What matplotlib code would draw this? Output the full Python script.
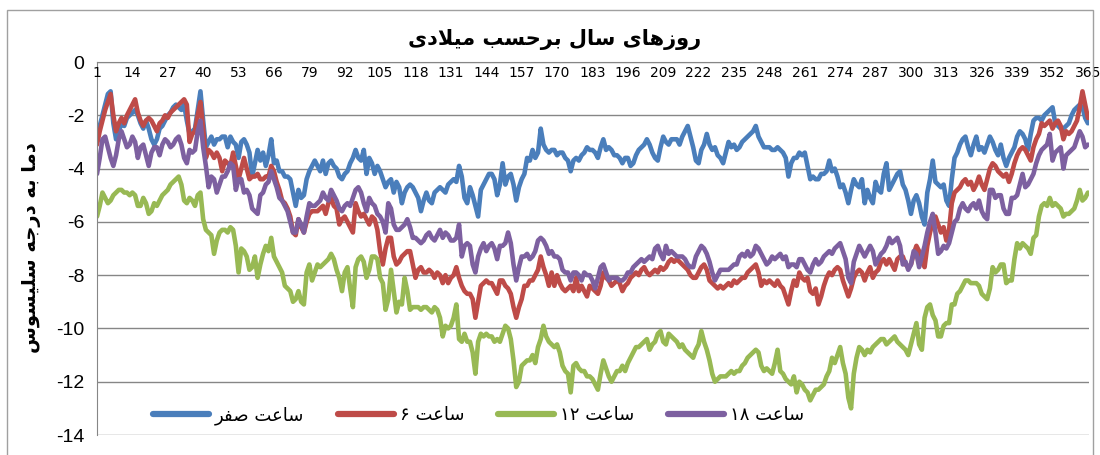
import re

import matplotlib
matplotlib.use("Agg")
import matplotlib.pyplot as plt
import numpy as np
from matplotlib.patches import Rectangle

# ---- data (daily temperature, deg C) ---------------------------------------
TITLE = "روزهای سال برحسب میلادی"
YLABEL = "دما به درجه سلیسوس"
SERIES_NAMES = ["ساعت صفر", "ساعت ۶", "ساعت ۱۲", "ساعت ۱۸"]
COLORS = ["#4A7EBB", "#BE4B48", "#98B954", "#7D60A0"]
YTICKS = [0, -2, -4, -6, -8, -10, -12, -14]
XTICKS = list(range(1, 366, 13))

HOUR_00 = [
    -2.8, -2.4, -2.0, -1.6, -1.2, -1.1, -2.3, -2.9, -2.6, -2.3,
    -2.4, -2.1, -2.0, -1.9, -1.8, -2.0, -2.3, -2.5, -2.2, -2.5,
    -2.9, -3.1, -2.9, -2.5, -2.4, -2.2, -2.0, -1.9, -1.7, -1.6,
    -1.7, -1.8, -1.6, -2.2, -2.7, -2.6, -2.5, -1.8, -1.1, -2.2,
    -3.2, -3.0, -2.8, -3.1, -2.9, -2.9, -2.8, -2.8, -3.2, -2.8,
    -3.0, -3.1, -3.6, -3.0, -2.9, -3.1, -3.4, -4.3, -3.8, -3.3,
    -3.7, -3.4, -3.9, -3.5, -2.9, -3.8, -3.7, -4.1, -4.1, -4.3,
    -4.3, -4.4, -4.9, -5.4, -4.8, -5.1, -5.0, -4.4, -4.1, -3.9,
    -3.7, -3.9, -4.1, -3.7, -4.2, -3.8, -3.7, -3.9, -4.0, -4.3,
    -4.4, -4.2, -4.1, -3.8, -3.6, -3.3, -3.6, -3.7, -3.3, -4.2,
    -3.6, -3.8, -4.2, -3.9, -4.1, -4.4, -4.7, -4.5, -4.4, -4.9,
    -4.5, -4.7, -5.3, -4.9, -4.7, -4.6, -4.7, -4.9, -5.1, -5.6,
    -5.2, -4.9, -5.2, -5.3, -4.9, -4.8, -4.7, -4.8, -4.9, -4.6,
    -4.5, -4.4, -4.5, -3.9, -4.3, -5.1, -5.3, -4.7, -5.0, -5.4,
    -5.8, -4.8, -4.6, -4.4, -4.2, -4.2, -4.4, -5.0, -4.6, -3.8,
    -4.6, -4.3, -4.2, -4.6, -5.2, -4.7, -4.4, -4.2, -3.6, -3.7,
    -3.3, -3.6, -3.4, -2.5, -3.1, -3.3, -3.4, -3.3, -3.3, -3.5,
    -3.4, -3.4, -3.6, -3.7, -4.1, -3.7, -3.6, -3.7, -3.5, -3.4,
    -3.2, -3.3, -3.3, -3.4, -3.6, -3.2, -2.9, -3.3, -3.2, -3.3,
    -3.5, -3.5, -3.6, -3.8, -3.6, -3.6, -3.9, -3.8, -3.5, -3.3,
    -3.2, -3.1, -2.9, -3.1, -3.4, -3.6, -3.7, -3.2, -2.8, -3.0,
    -3.1, -2.9, -2.9, -2.9, -3.1, -2.8, -2.6, -2.4, -2.8, -3.2,
    -3.7, -3.8, -3.3, -3.1, -2.7, -3.1, -3.3, -3.2, -3.5, -3.6,
    -3.8, -3.4, -3.0, -3.2, -3.1, -3.3, -3.2, -3.0, -2.9, -2.8,
    -2.7, -2.6, -2.4, -2.8, -3.0, -3.2, -3.2, -3.2, -3.3, -3.3,
    -3.2, -3.3, -3.4, -3.6, -4.3, -3.8, -3.6, -3.6, -3.4, -3.5,
    -3.4, -3.9, -4.4, -4.3, -4.4, -4.4, -4.2, -4.2, -4.1, -3.7,
    -4.1, -4.0, -4.3, -4.7, -4.6, -4.9, -5.3, -4.8, -4.4, -4.6,
    -4.7, -4.4, -5.3, -4.8, -5.1, -5.3, -4.5, -4.8, -4.9, -4.2,
    -3.8, -4.8, -4.6, -4.4, -4.2, -4.1, -4.6, -4.8, -5.2, -5.7,
    -5.2, -5.0, -5.3, -5.8, -6.1, -4.9, -4.4, -3.7, -4.5, -4.6,
    -4.7, -4.6, -5.2, -5.4, -4.4, -3.6, -3.4, -3.1, -2.9, -2.8,
    -3.2, -3.5, -3.1, -2.8, -3.3, -3.2, -3.4, -3.1, -2.8, -3.0,
    -3.3, -3.5, -3.1, -3.6, -3.9, -3.6, -3.4, -3.2, -2.8, -2.6,
    -2.7, -2.9, -3.3, -2.7, -2.2, -2.1, -2.1, -2.2, -2.0, -1.9,
    -1.8, -1.7, -2.3, -2.4, -2.5, -2.5, -2.4, -2.3, -2.0, -1.8,
    -1.7, -1.6, -1.7, -2.1, -2.3,
]

HOUR_06 = [
    -3.1, -2.6, -2.2, -1.8, -1.5, -1.2, -2.0, -2.6, -2.3, -2.1,
    -2.3, -2.0, -1.8, -1.6, -1.4, -1.9, -2.2, -2.4, -2.2, -2.1,
    -2.2, -2.4, -2.6, -2.3, -2.2, -2.0, -2.1, -1.9, -1.8, -1.7,
    -1.6, -1.5, -1.4, -1.6, -3.0, -2.7, -2.6, -2.0, -1.5, -2.5,
    -3.6, -3.3, -3.4, -3.6, -3.4, -3.6, -4.1, -3.7, -3.8, -3.9,
    -3.4, -3.9, -4.4, -4.0, -3.6, -4.0, -4.4, -4.3, -4.3, -4.2,
    -4.4, -4.4, -4.3, -4.3, -3.9, -4.1, -4.5, -4.8, -5.2, -5.3,
    -5.5, -5.8, -6.4, -6.5, -5.9, -6.2, -6.4, -6.0, -5.7, -5.6,
    -5.6, -5.6, -5.5, -5.4, -5.7, -5.3, -5.1, -5.4, -5.5, -6.1,
    -5.9, -5.8, -6.0, -6.2, -6.4, -5.3, -5.6, -5.8, -5.7, -5.9,
    -6.1, -5.8, -5.9, -6.3, -7.1, -7.6, -7.0, -6.6, -6.6, -7.3,
    -7.6, -7.5, -7.3, -7.2, -7.1, -7.1, -7.6, -8.1, -7.8, -7.7,
    -7.9, -7.9, -7.8, -7.9, -8.1, -7.9, -8.0, -8.3, -8.0, -8.3,
    -8.1, -8.0, -7.7, -8.1, -8.4, -8.6, -8.7, -8.7, -8.9, -9.6,
    -9.0, -8.4, -8.3, -8.2, -8.3, -8.3, -8.5, -8.7, -8.2, -8.2,
    -8.4, -8.5, -8.7, -9.2, -9.6, -9.2, -8.9, -8.4, -8.4, -8.2,
    -8.2, -8.0, -7.8, -7.3, -7.7, -8.0, -8.4, -7.9, -8.4, -8.0,
    -8.3, -8.5, -8.6, -8.5, -8.4, -8.6, -8.1, -8.6, -8.4, -8.6,
    -8.8, -8.4, -8.5, -8.6, -8.7, -8.4, -7.9, -8.1, -8.2, -8.4,
    -8.3, -8.2, -8.3, -8.6, -8.4, -8.3, -8.1, -8.0, -7.9, -8.0,
    -7.8, -7.7, -7.9, -8.0, -7.9, -7.8, -7.9, -7.7, -7.8, -7.7,
    -7.5, -7.4, -7.5, -7.4, -7.5, -7.6, -7.7, -7.8, -8.0, -8.1,
    -8.1, -7.9, -7.7, -7.6, -7.8, -8.2, -8.3, -8.4, -8.5, -8.4,
    -8.5, -8.4, -8.3, -8.4, -8.2, -8.3, -8.2, -8.1, -8.1, -7.9,
    -7.8, -7.7, -7.6, -7.9, -8.4, -8.2, -8.3, -8.2, -8.3, -8.4,
    -8.2, -8.4, -8.5, -8.8, -9.1, -8.6, -8.2, -8.4, -7.9, -8.1,
    -8.2, -8.1, -8.6, -8.7, -8.5, -9.1, -8.8, -8.4, -8.1, -7.9,
    -8.0, -7.8, -7.7, -7.8, -8.2, -8.5, -8.8, -8.5, -8.1, -7.9,
    -7.8, -7.9, -8.2, -7.9, -7.7, -8.1, -7.9, -7.8, -7.5, -7.4,
    -7.6, -7.4, -7.6, -7.8, -7.4, -7.3, -7.3, -7.6, -7.7, -7.6,
    -7.2, -6.9, -7.1, -7.5, -7.7, -6.9, -6.4, -6.0, -5.8, -6.1,
    -6.4, -6.2, -6.7, -6.3, -5.3, -4.9, -4.8, -4.7, -4.5, -4.4,
    -4.6, -4.5, -4.8, -4.6, -4.3, -4.6, -4.8, -4.4, -4.0, -3.8,
    -3.9, -4.1, -4.2, -4.3, -4.2, -4.5, -4.2, -3.8, -3.5, -3.3,
    -3.2, -3.3, -3.5, -3.7, -3.2, -2.9, -2.7, -2.3, -2.4, -2.3,
    -2.2, -2.5, -2.3, -2.2, -2.4, -2.9, -2.6, -2.7, -2.6, -2.4,
    -2.2, -1.7, -1.1, -1.6, -2.1,
]

HOUR_12 = [
    -5.8, -5.4, -4.9, -5.1, -5.3, -5.2, -5.0, -4.9, -4.8, -4.8,
    -4.9, -4.9, -5.0, -4.9, -5.0, -5.4, -5.4, -5.1, -5.3, -5.7,
    -5.6, -5.3, -5.4, -5.2, -5.0, -4.9, -4.8, -4.6, -4.5, -4.4,
    -4.3, -4.6, -5.2, -5.3, -5.1, -5.2, -5.4, -5.0, -4.9, -5.9,
    -6.3, -6.4, -6.5, -7.2, -6.7, -6.4, -6.3, -6.3, -6.4, -6.2,
    -6.3, -6.9, -7.9, -7.0, -7.1, -7.3, -7.8, -7.7, -7.3, -8.1,
    -7.6, -7.2, -6.9, -7.1, -6.6, -7.3, -7.5, -7.7, -7.9, -8.4,
    -8.5, -8.6, -9.0, -8.9, -8.6, -9.0, -9.1, -7.9, -7.6, -8.2,
    -7.9, -7.6, -7.7, -7.6, -7.5, -7.4, -7.2, -7.4, -7.8, -8.1,
    -8.6, -7.9, -7.7, -8.5, -9.2, -7.7, -7.4, -7.3, -7.5, -8.1,
    -7.8, -7.3, -7.3, -7.4, -8.1, -8.3, -9.3, -8.9, -7.8, -8.6,
    -9.4, -9.0, -9.1, -8.1, -8.6, -9.3, -9.2, -9.2, -9.2, -9.3,
    -9.2, -9.2, -9.3, -9.4, -9.2, -9.3, -9.6, -10.3, -9.9, -10.0,
    -9.9, -9.6, -9.1, -10.4, -10.5, -10.2, -10.5, -10.5, -10.9, -11.7,
    -10.5, -10.2, -10.3, -10.2, -10.3, -10.3, -10.5, -10.4, -10.5, -10.2,
    -9.9, -10.0, -10.4, -11.2, -12.2, -12.0, -11.4, -11.3, -11.2, -11.2,
    -11.0, -11.3, -10.7, -10.4, -9.9, -10.3, -10.5, -10.6, -10.7, -10.6,
    -10.9, -11.4, -11.6, -11.7, -12.4, -11.4, -11.3, -11.5, -11.6, -11.6,
    -11.8, -11.8, -11.9, -12.1, -12.3, -11.7, -11.2, -11.5, -11.8, -12.0,
    -11.8, -11.6, -11.6, -11.4, -11.6, -11.3, -11.1, -10.9, -10.7, -10.7,
    -10.6, -10.5, -10.4, -10.8, -10.6, -10.5, -10.2, -10.1, -10.5, -10.6,
    -10.2, -10.3, -10.4, -10.5, -10.7, -10.6, -10.8, -10.9, -11.0, -11.1,
    -10.8, -10.6, -10.1, -10.5, -10.8, -11.2, -11.7, -12.0, -11.9, -11.8,
    -11.8, -11.8, -11.7, -11.6, -11.7, -11.6, -11.6, -11.4, -11.3, -11.1,
    -11.0, -10.9, -10.8, -10.9, -11.4, -11.6, -11.5, -11.6, -11.7, -11.3,
    -10.8, -11.6, -11.7, -11.9, -12.0, -12.1, -11.8, -12.4, -12.0, -12.1,
    -12.3, -12.4, -12.7, -12.5, -12.3, -12.3, -12.2, -12.1, -11.8, -11.6,
    -11.1, -11.3, -11.0, -10.7, -11.3, -11.7, -12.6, -13.0, -11.7, -11.1,
    -10.7, -10.8, -11.0, -10.8, -10.9, -10.7, -10.6, -10.5, -10.4, -10.4,
    -10.6, -10.5, -10.4, -10.3, -10.5, -10.6, -10.7, -10.8, -11.0, -10.6,
    -10.2, -9.8, -10.6, -10.8, -9.6, -9.2, -9.1, -9.5, -9.7, -10.3,
    -10.3, -9.9, -9.8, -9.8, -9.1, -9.1, -8.7, -8.6, -8.4, -8.2,
    -8.2, -8.3, -8.3, -8.3, -8.4, -8.7, -8.8, -8.9, -8.5, -7.7,
    -7.9, -7.8, -7.6, -7.6, -8.3, -8.2, -8.2, -7.4, -6.8, -7.0,
    -6.8, -6.9, -7.0, -7.2, -6.6, -6.5, -5.8, -5.4, -5.3, -5.4,
    -5.1, -5.4, -5.3, -5.4, -5.5, -5.8, -5.7, -5.7, -5.6, -5.5,
    -5.2, -4.8, -5.2, -5.1, -4.9,
]

HOUR_18 = [
    -4.2, -3.6, -2.9, -2.8, -3.2, -3.6, -3.9, -3.5, -2.9, -2.6,
    -2.9, -3.2, -3.1, -2.8, -3.0, -3.6, -3.2, -3.1, -3.5, -3.9,
    -3.4, -3.2, -3.2, -3.5, -3.1, -2.9, -3.0, -3.2, -3.1, -2.9,
    -2.8, -3.1, -3.6, -3.8, -3.3, -3.4, -3.3, -2.6, -2.2, -3.2,
    -3.9, -4.7, -4.3, -4.4, -4.9, -4.6, -4.3, -4.3, -4.1, -3.8,
    -3.9, -4.8, -4.4, -4.4, -4.9, -4.8, -5.0, -5.5, -5.6, -5.7,
    -5.0, -4.9, -4.6, -4.5, -4.1, -4.4, -4.7, -5.1, -5.2, -5.4,
    -5.6, -6.0, -6.4, -6.4, -5.9, -6.1, -6.4, -5.8, -5.3, -5.4,
    -5.4, -5.3, -5.2, -4.9, -5.1, -5.2, -4.8, -5.0, -5.2, -5.5,
    -5.6, -5.4, -5.3, -5.4, -5.1, -4.8, -4.7, -4.9, -5.3, -5.6,
    -5.1, -5.3, -5.4, -5.7, -5.8, -6.0, -6.4, -5.3, -5.5, -6.1,
    -6.3, -6.3, -6.2, -6.1, -5.9, -6.2, -6.6, -6.6, -6.7, -6.8,
    -6.7, -6.5, -6.4, -6.6, -6.7, -6.5, -6.3, -6.6, -6.4, -6.5,
    -6.7, -6.7, -6.6, -6.1, -7.3, -6.9, -6.8, -6.9, -7.6, -7.9,
    -7.3, -7.0, -6.8, -7.1, -6.9, -6.8, -7.0, -7.4, -6.9, -6.9,
    -6.8, -6.4, -6.8, -7.6, -8.2, -7.7, -7.3, -7.3, -7.2, -7.4,
    -7.3, -7.1, -6.7, -6.6, -6.7, -6.9, -7.2, -7.1, -7.3, -7.3,
    -7.4, -7.8, -7.9, -7.9, -8.2, -7.9, -7.9, -8.0, -8.2, -7.9,
    -8.0, -8.0, -8.2, -8.5, -8.1, -7.7, -7.6, -7.9, -8.2, -8.1,
    -8.1, -8.1, -8.2, -8.2, -8.1, -7.9, -7.9, -7.7, -7.6, -7.5,
    -7.4, -7.5, -7.4, -7.3, -7.4, -7.0, -6.9, -7.2, -7.4, -6.9,
    -7.2, -7.1, -7.2, -7.3, -7.3, -7.3, -7.4, -7.6, -7.7, -7.7,
    -7.3, -7.1, -6.9, -7.0, -7.2, -7.5, -7.9, -8.2, -8.0, -7.8,
    -7.8, -7.8, -7.8, -7.7, -7.6, -7.6, -7.3, -7.2, -7.3, -7.1,
    -7.3, -7.2, -6.9, -7.0, -7.2, -7.4, -7.6, -7.5, -7.3, -7.4,
    -7.3, -7.2, -7.4, -7.3, -7.7, -7.6, -7.6, -7.7, -7.4, -7.4,
    -7.6, -7.8, -7.9, -7.6, -7.4, -7.6, -7.5, -7.3, -7.2, -7.1,
    -7.2, -7.0, -6.9, -6.8, -7.1, -7.4, -8.1, -8.3, -7.5, -7.2,
    -6.9, -7.1, -7.3, -7.1, -6.9, -7.1, -7.6, -7.4, -7.2, -7.1,
    -6.9, -6.6, -6.8, -6.7, -6.6, -6.9, -7.6, -7.5, -7.8, -7.6,
    -7.1, -7.2, -7.7, -7.3, -6.9, -6.4, -6.0, -5.7, -6.4, -7.2,
    -7.1, -6.9, -7.0, -6.8, -6.4, -6.0, -5.9, -5.5, -5.3, -5.5,
    -5.6, -5.4, -5.3, -5.5, -5.2, -5.6, -5.8, -5.9, -4.8, -4.8,
    -5.1, -5.0, -5.0, -5.5, -5.7, -5.7, -5.1, -5.1, -5.0, -4.6,
    -4.2, -4.7, -4.6, -4.4, -4.2, -3.8, -3.5, -3.3, -3.2, -3.1,
    -2.7, -3.7, -3.4, -3.3, -3.2, -4.0, -3.5, -3.4, -3.3, -3.2,
    -2.9, -2.6, -2.8, -3.2, -3.1,
]

# ---- minimal Persian shaping (matplotlib has no complex text layout) -------
# presentation-form base code points: +0 isolated, +1 final, +2 initial, +3 medial
DUAL = {"ب": 0xFE8F, "ت": 0xFE95, "ج": 0xFE9D, "ح": 0xFEA1, "س": 0xFEB1,
        "ص": 0xFEB9, "ع": 0xFEC9, "ف": 0xFED1, "ل": 0xFEDD, "م": 0xFEE1,
        "ه": 0xFEE9, "ی": 0xFBFC}
RIGHT = {"ا": 0xFE8D, "د": 0xFEA9, "ر": 0xFEAD, "ز": 0xFEAF, "و": 0xFEED}


def fa(text):
    out, i, n = [], 0, len(text)
    while i < n:
        ch = text[i]
        prev = i > 0 and text[i - 1] in DUAL
        if ch == "ل" and i + 1 < n and text[i + 1] == "ا":
            out.append(chr(0xFEFC if prev else 0xFEFB))  # lam-alef
            i += 2
            continue
        if ch in DUAL:
            nxt = i + 1 < n and (text[i + 1] in DUAL or text[i + 1] in RIGHT)
            if prev and nxt:
                off = 3
            elif nxt:
                off = 2
            elif prev:
                off = 1
            else:
                off = 0
            out.append(chr(DUAL[ch] + off))
        elif ch in RIGHT:
            out.append(chr(RIGHT[ch] + (1 if prev else 0)))
        else:
            out.append(ch)
        i += 1
    visual = "".join(reversed(out))
    # digit runs keep their left-to-right order
    return re.sub("[۰-۹0-9]+", lambda m: m.group(0)[::-1], visual)


plt.rcParams["axes.unicode_minus"] = False
NUM_FONT = "Liberation Sans"
FA_FONT = ["DejaVu Sans"]
GRID = "#868686"

fig = plt.figure(figsize=(11, 4.55), dpi=100)
ax = fig.add_axes([97 / 1100, 1 - 435 / 455, 992 / 1100, 373 / 455])

for yv in YTICKS:
    ax.axhline(yv, color=GRID, lw=1.0, zorder=0.5)

for vals, name, col in zip([HOUR_00, HOUR_06, HOUR_12, HOUR_18], SERIES_NAMES, COLORS):
    days = np.arange(1, len(vals) + 1)
    ax.plot(days, vals, color=col, lw=3.3, label=fa(name),
            solid_joinstyle="round", solid_capstyle="round", zorder=2)

ax.set_xlim(1, 365.4)
ax.set_ylim(-14, 0)
ax.set_yticks(YTICKS)
ax.set_yticklabels([str(v) for v in YTICKS], fontsize=14, family=NUM_FONT)
ax.set_xticks(XTICKS)
ax.set_xticklabels([str(v) for v in XTICKS], rotation=90, fontsize=13.5,
                   family=NUM_FONT)
ax.tick_params(axis="both", length=0)
ax.tick_params(axis="y", pad=9)
ax.tick_params(axis="x", pad=3)

# category axis crosses at 0 (top of the plot), labels hang below it
ax.spines["bottom"].set_position(("data", 0))
ax.spines["bottom"].set_color(GRID)
ax.spines["left"].set_color(GRID)
ax.spines["top"].set_visible(False)
ax.spines["right"].set_visible(False)
ax.set_axisbelow(False)
ax.set_facecolor("none")

leg = ax.legend(loc="center left", bbox_to_anchor=(0.0565, 0.052), ncol=4,
                frameon=False, borderpad=0, borderaxespad=0,
                handlelength=3.1, handletextpad=0.3, columnspacing=1.9,
                prop={"family": FA_FONT, "size": 13})
for line in leg.get_lines():
    line.set_linewidth(4.5)

fig.text(555 / 1100, 1 - 40 / 455, fa(TITLE), ha="center", va="center",
         fontsize=15, fontweight="bold", family=FA_FONT)
fig.text(32 / 1100, 1 - 248 / 455, fa(YLABEL), ha="center", va="center",
         rotation=90, fontsize=14, fontweight="bold", family=FA_FONT)

fig.patches.append(Rectangle((7 / 1100, -0.05), 1086 / 1100, 1.05 - 10 / 455,
                             transform=fig.transFigure, fill=False,
                             edgecolor="#A0A0A0", lw=1.0))

fig.savefig("out.png", dpi=100, facecolor="white")
